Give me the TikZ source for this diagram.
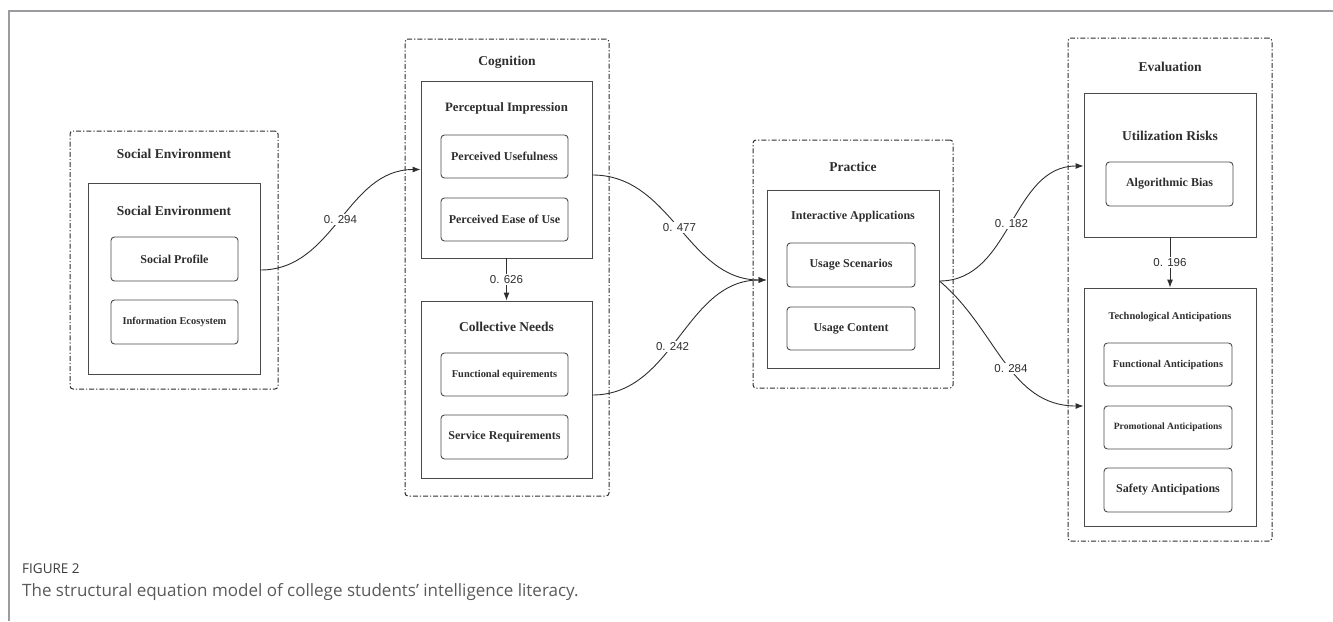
\documentclass[tikz,border=0pt]{standalone}
\usepackage{fontspec}
\setmainfont{Liberation Serif}
\newfontfamily\lblfont{Liberation Sans}
\newfontfamily\capfont{Open Sans}
\usetikzlibrary{arrows.meta}
\definecolor{ink}{HTML}{2E2E2E}
\definecolor{boxline}{HTML}{4A4A4A}
\definecolor{framegray}{HTML}{9C9CA0}
\definecolor{capdark}{HTML}{3A3A3A}
\definecolor{capgray}{HTML}{5A5A5A}
\tikzset{
  grp/.style={draw=ink, line width=1pt, dash pattern=on 5pt off 2pt on 1.2pt off 2pt, rounded corners=3pt, inner sep=0pt},
  box/.style={draw=boxline, line width=0.9pt, inner sep=0pt, minimum width=172pt},
  item/.style={draw=boxline, line width=0.9pt, rounded corners=3.5pt, inner sep=0pt, minimum width=127pt, minimum height=44pt, text=ink, font=\bfseries\fontsize{12}{14}\selectfont},
  smallitem/.style={item, font=\bfseries\fontsize{10.4}{12}\selectfont},
  ttl/.style={inner sep=0pt, text=ink, font=\bfseries\fontsize{13.5}{16}\selectfont},
  subttl/.style={inner sep=0pt, text=ink, font=\bfseries\fontsize{12.8}{15}\selectfont},
  lbl/.style={fill=white, inner sep=1.5pt, text=ink, font=\lblfont\fontsize{11.5}{13}\selectfont},
  conn/.style={draw=ink, line width=0.9pt, -{Latex[length=8pt,width=6pt]}}
}
\begin{document}
\begin{tikzpicture}[x=1pt,y=-1pt]
\useasboundingbox (0,0) rectangle (1333,621);
% frame
\draw[framegray, line width=1.5pt] (9,621) -- (9,11) -- (1333,11);

% groups
\node[grp, minimum width=208pt, minimum height=258pt] (gSE) at (174,260) {};
\node[grp, minimum width=204pt, minimum height=457pt] (gCog) at (507,267.5) {};
\node[grp, minimum width=200pt, minimum height=248pt] (gPra) at (853,264) {};
\node[grp, minimum width=204pt, minimum height=503pt] (gEva) at (1170,289.5) {};

\node[ttl] (tSE) at (174,154) {Social Environment};
\node[ttl] (tCog) at (507,62) {Cognition};
\node[ttl] (tPra) at (853,167) {Practice};
\node[ttl] (tEva) at (1170,67) {Evaluation};

% inner boxes
\node[box, minimum height=191pt] (bSE) at (174,278.5) {};
\node[box, minimum width=171pt, minimum height=177pt] (bPI) at (506.5,169.5) {};
\node[box, minimum width=171pt, minimum height=177pt] (bCN) at (506.5,389.5) {};
\node[box, minimum height=178pt] (bIA) at (853,279) {};
\node[box, minimum height=144pt] (bUR) at (1170,165) {};
\node[box, minimum height=238pt] (bTA) at (1170,407) {};

\node[ttl] (tbSE) at (174,211) {Social Environment};
\node[subttl] (tbPI) at (506.5,108) {Perceptual Impression};
\node[ttl] (tbCN) at (506.5,327) {Collective Needs};
\node[ttl, font=\bfseries\fontsize{12}{14}\selectfont] (tbIA) at (853,217) {Interactive Applications};
\node[ttl] (tbUR) at (1170,136) {Utilization Risks};
\node[ttl, font=\bfseries\fontsize{10.4}{12}\selectfont] (tbTA) at (1170,317) {Technological Anticipations};

% items
\node[item] (iSP) at (174.5,259) {Social Profile};
\node[smallitem] (iIE) at (174.5,322) {Information Ecosystem};
\node[item, minimum height=43pt] (iPU) at (504.5,156.5) {Perceived Usefulness};
\node[item, minimum height=43pt] (iPE) at (504.5,219.5) {Perceived Ease of Use};
\node[smallitem, minimum height=43pt] (iFR) at (504.5,374.5) {Functional equirements};
\node[item] (iSR) at (504.5,437) {Service Requirements};
\node[item, minimum width=128pt] (iUS) at (851,265) {Usage Scenarios};
\node[item, minimum width=128pt, minimum height=43pt] (iUC) at (851,328.5) {Usage Content};
\node[item] (iAB) at (1169.5,184) {Algorithmic Bias};
\node[smallitem, minimum width=128pt, minimum height=43pt] (iFA) at (1168,364.5) {Functional Anticipations};
\node[smallitem, minimum width=128pt, minimum height=43pt, font=\bfseries\fontsize{9.6}{11}\selectfont] (iPA) at (1168,427.5) {Promotional Anticipations};
\node[item, minimum width=128pt] (iSA) at (1168,490) {Safety Anticipations};

% connectors
\draw[conn] ([yshift=8.5pt]bSE.east) to[out=0,in=180] node[lbl]{0. 294} (bPI.west);
\draw[conn] ([yshift=-5.5pt]bPI.east) to[out=0,in=180] node[lbl]{0. 477} ([yshift=-1pt]bIA.west);
\draw[conn] ([yshift=-5.5pt]bCN.east) to[out=0,in=180] node[lbl,pos=0.45]{0. 242} ([yshift=-1pt]bIA.west);
\draw[conn] ([yshift=-2pt]bIA.east) to[out=0,in=180] node[lbl]{0. 182} ([yshift=-1pt]bUR.west);
\draw[conn] ([yshift=-2pt]bIA.east) to[out=-40,in=180] node[lbl,pos=0.55]{0. 284} ([yshift=1pt]bTA.west);
\draw[conn] (bPI.south) -- node[lbl]{0. 626} (bCN.north);
\draw[conn] (bUR.south) -- node[lbl]{0. 196} (bTA.north);

% caption
\node[anchor=west, inner sep=0pt, text=capdark, font=\capfont\fontsize{13.5}{15}\selectfont] (fig) at (22,569) {FIGURE 2};
\node[anchor=west, inner sep=0pt, text=capgray, font=\capfont\fontsize{17}{20}\selectfont] (cap) at (22,592) {The structural equation model of college students’ intelligence literacy.};
\end{tikzpicture}
\end{document}
